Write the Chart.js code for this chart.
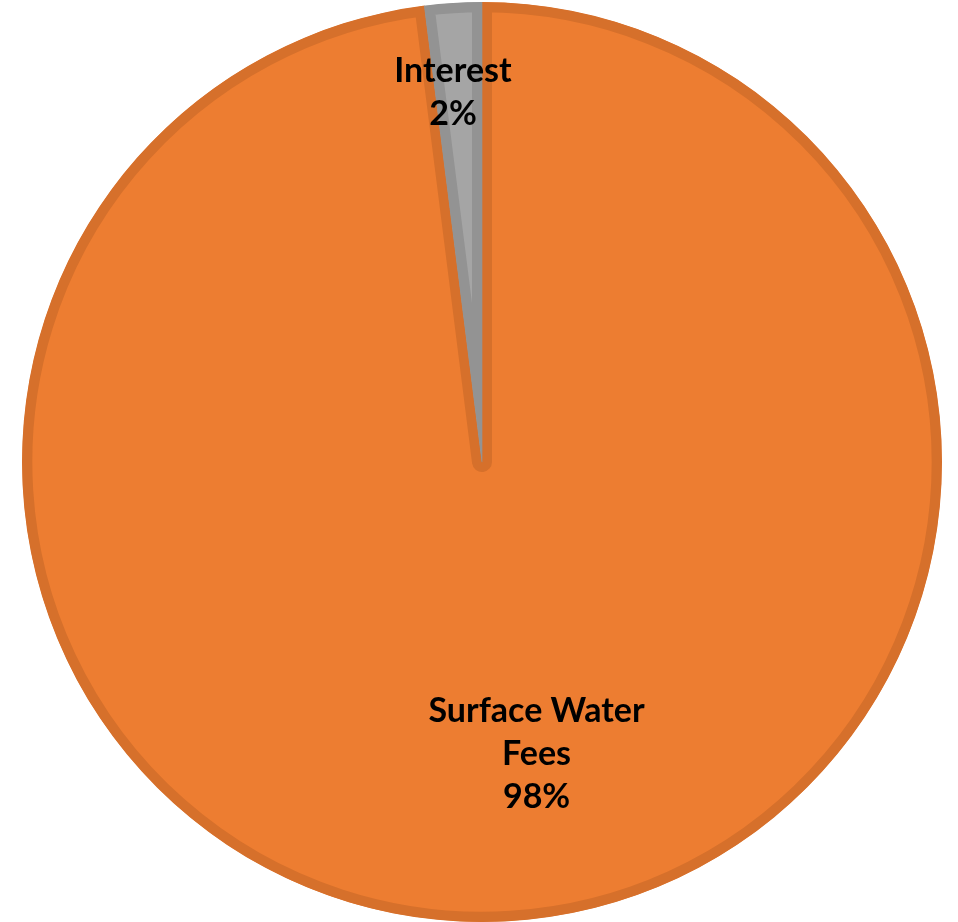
<!DOCTYPE html>
<html>
<head>
<meta charset="utf-8">
<script src="https://cdn.jsdelivr.net/npm/chart.js@4/dist/chart.umd.min.js"></script>
<style>
  html, body { margin: 0; padding: 0; background: #fff; }
  #wrap { width: 958px; height: 922px; position: relative; }
</style>
</head>
<body>
<div id="wrap"><canvas id="pieChart"></canvas></div>
<script>
// data
const categories = ['Surface Water Fees', 'Interest'];
const labelLines = [['Surface Water', 'Fees'], ['Interest']];
const values = [98, 2];
const sliceColors = ['#ED7D31', '#A5A5A5'];
const sliceBorders = ['#D6702B', '#939393'];

// where each label sits: angle shift (deg) from slice middle, fraction of radius
const labelPlace = [
    { shift: -7, frac: 0.645 },
    { shift: -0.9, frac: 0.805 }
];

const pieLabels = {
    id: 'pieLabels',
    afterDatasetsDraw(chart) {
        const ctx = chart.ctx;
        const meta = chart.getDatasetMeta(0);
        const data = chart.data.datasets[0].data;
        const total = data.reduce((a, b) => a + b, 0);
        const lineH = 43;
        ctx.save();
        ctx.font = 'bold 34px Lato, "Open Sans", sans-serif';
        ctx.fillStyle = '#000';
        ctx.textAlign = 'center';
        ctx.textBaseline = 'middle';
        meta.data.forEach((arc, i) => {
            const p = arc.getProps(['x', 'y', 'startAngle', 'endAngle', 'outerRadius'], true);
            const mid = (p.startAngle + p.endAngle) / 2 + labelPlace[i].shift * Math.PI / 180;
            const r = p.outerRadius * labelPlace[i].frac;
            const cx = p.x + Math.cos(mid) * r;
            const cy = p.y + Math.sin(mid) * r;
            const lines = labelLines[i].concat([Math.round(data[i] / total * 100) + '%']);
            const top = cy - (lines.length - 1) * lineH / 2;
            lines.forEach((t, k) => ctx.fillText(t, cx, top + k * lineH));
        });
        ctx.restore();
    }
};

const ctx = document.getElementById('pieChart').getContext('2d');
const pieChart = new Chart(ctx, {
    type: 'pie',
    data: {
        labels: categories,
        datasets: [{
            data: values,
            backgroundColor: sliceColors,
            borderColor: sliceBorders,
            borderWidth: 10,
            borderAlign: 'inner'
        }]
    },
    options: {
        responsive: true,
        maintainAspectRatio: false,
        animation: false,
        rotation: 0,
        layout: { padding: { left: 6, right: 0, top: 2, bottom: 0 } },
        plugins: {
            legend: { display: false },
            tooltip: { enabled: false }
        }
    },
    plugins: [pieLabels]
});
</script>
</body>
</html>
